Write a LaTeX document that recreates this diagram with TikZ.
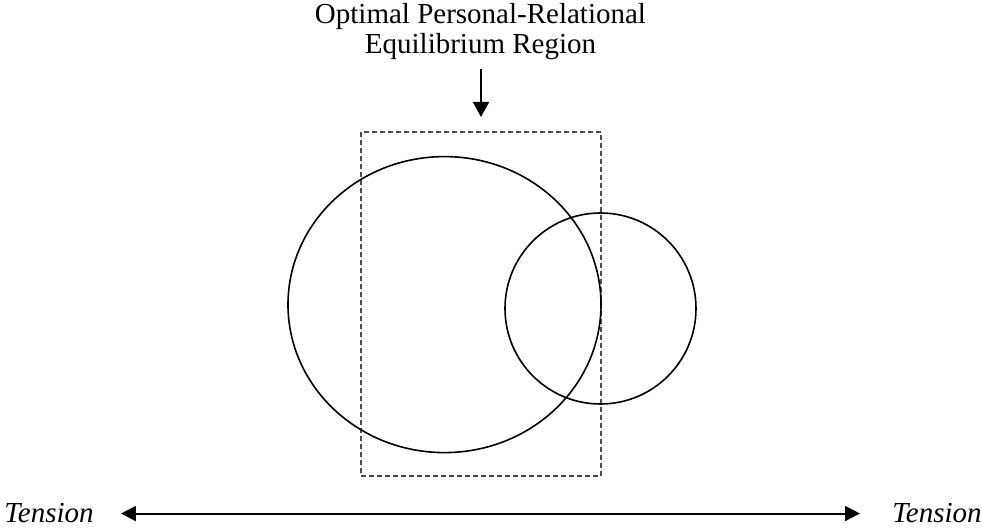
\documentclass[tikz,border=0pt]{standalone}
\usepackage{fontspec}
\setmainfont{Liberation Serif}
\usetikzlibrary{arrows.meta, positioning, shapes.geometric}

\begin{document}
\begin{tikzpicture}[
  x=0.5pt, y=-0.5pt,
  every node/.style={font=\fontsize{14.5}{15}\selectfont, inner sep=0pt},
  toptext/.style={align=center, anchor=base},
  axistext/.style={font=\fontsize{14.5}{15}\selectfont\itshape, anchor=base west},
  region/.style={draw=black!70, line width=0.75pt, dash pattern=on 2.5pt off 1.5pt},
  ring/.style={draw=black, line width=0.8pt},
  arr/.style={-{Triangle[length=7.5pt, width=8pt]}, line width=1pt},
  axisarr/.style={{Triangle[length=7.5pt, width=7.5pt]}-{Triangle[length=7.5pt, width=7.5pt]}, line width=1pt},
]
\useasboundingbox (0,0) rectangle (982,529);

%% Label and pointer
\node[toptext] (optlabel) at (480.5,54) {Optimal Personal-Relational\\Equilibrium Region};
\coordinate (ptrtop) at (481,69);
\coordinate (ptrtip) at (481,117);

%% Equilibrium region
\node[region, rectangle, minimum width=120pt, minimum height=172pt] (eqbox) at (481,304) {};

%% Circles
\node[ring, ellipse, minimum width=156.5pt, minimum height=148pt] (bigcirc) at (444.5,304.6) {};
\node[ring, circle, minimum size=95.5pt] (smallcirc) at (600.5,308.5) {};

%% Tension axis
\node[axistext] (tleft)  at (4,523)   {Tension};
\node[axistext] (tright) at (892,523) {Tension};

%% Arrows
\draw[arr]  (ptrtop) -- (ptrtip);
\draw[axisarr, shorten <=13.5pt, shorten >=16pt] (tleft.east) -- (tright.west);

\end{tikzpicture}
\end{document}
